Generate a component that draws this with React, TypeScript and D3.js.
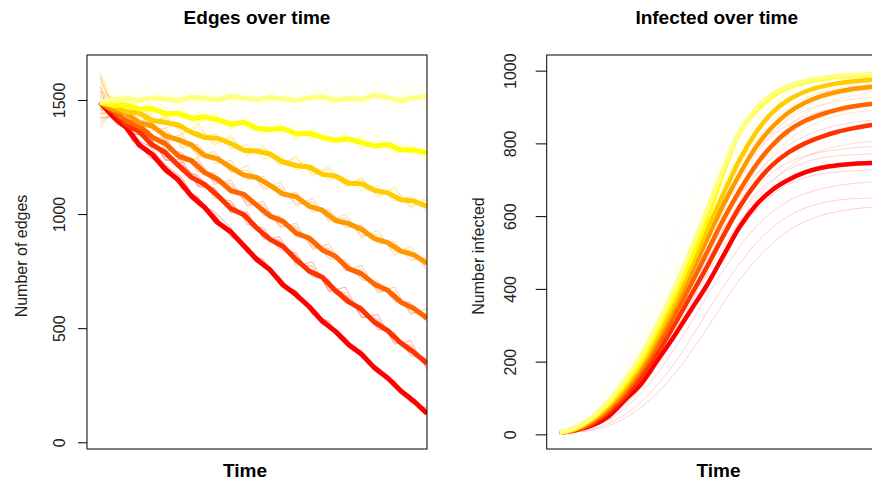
import React, { useEffect, useRef } from 'react';
import * as d3 from 'd3';

// heat.colors(7): one colour per scenario, red -> pale yellow
const heatColors = ['#FF0000', '#FF3300', '#FF6600', '#FF9900', '#FFCC00', '#FFFF00', '#FFFF80'];

const edgeTicks = [0, 500, 1000, 1500];
const infectedTicks = [0, 200, 400, 600, 800, 1000];

// ---- Edges over time: mean per scenario (26 time steps)
const edgesMean1 = [1490, 1427, 1380, 1303, 1261, 1195, 1149, 1078, 1029, 963, 922, 861, 800, 756, 689, 646, 594, 530, 486, 428, 386, 325, 282, 225, 180, 127];
const edgesMean2 = [1490, 1449, 1391, 1362, 1303, 1269, 1213, 1161, 1130, 1081, 1024, 997, 938, 889, 858, 800, 750, 723, 664, 616, 582, 525, 489, 435, 394, 346];
const edgesMean3 = [1490, 1455, 1408, 1386, 1337, 1308, 1255, 1234, 1182, 1153, 1103, 1086, 1038, 991, 968, 916, 895, 843, 815, 761, 738, 692, 666, 614, 586, 544];
const edgesMean4 = [1490, 1459, 1441, 1400, 1386, 1343, 1325, 1303, 1256, 1242, 1204, 1171, 1160, 1126, 1088, 1076, 1034, 1017, 972, 958, 933, 892, 875, 838, 821, 785];
const edgesMean5 = [1490, 1476, 1448, 1443, 1410, 1402, 1390, 1358, 1336, 1332, 1309, 1280, 1276, 1263, 1228, 1213, 1206, 1174, 1167, 1135, 1133, 1104, 1093, 1063, 1057, 1033];
const edgesMean6 = [1490, 1476, 1478, 1460, 1462, 1440, 1441, 1419, 1426, 1413, 1394, 1402, 1375, 1371, 1375, 1352, 1354, 1336, 1323, 1329, 1314, 1298, 1304, 1282, 1280, 1268];
const edgesMean7 = [1490, 1500, 1507, 1498, 1510, 1504, 1496, 1512, 1506, 1500, 1515, 1508, 1502, 1511, 1504, 1498, 1509, 1513, 1500, 1506, 1503, 1522, 1510, 1497, 1508, 1516];

// ---- Edges over time: single runs (21 time steps)
const edgesRuns1 = [
  [1540, 1400, 1350, 1250, 1210, 1110, 1070, 960, 930, 830, 790, 700, 655, 565, 520, 435, 390, 305, 265, 180, 140],
  [1420, 1430, 1320, 1285, 1180, 1140, 1040, 1000, 900, 860, 765, 725, 630, 590, 500, 460, 372, 330, 245, 205, 118],
  [1490, 1395, 1360, 1262, 1215, 1118, 1075, 978, 925, 852, 790, 702, 660, 580, 520, 448, 385, 318, 262, 196, 132],
  [1460, 1440, 1330, 1300, 1215, 1160, 1045, 1010, 940, 830, 800, 690, 665, 560, 530, 430, 400, 300, 270, 175, 150],
];
const edgesRuns2 = [
  [1560, 1410, 1395, 1300, 1285, 1185, 1170, 1070, 1058, 955, 940, 845, 830, 725, 712, 610, 598, 495, 480, 380, 365],
  [1440, 1450, 1355, 1340, 1240, 1225, 1125, 1112, 1010, 1000, 895, 885, 785, 770, 668, 655, 552, 540, 440, 425, 330],
  [1500, 1420, 1385, 1330, 1250, 1215, 1160, 1080, 1045, 985, 905, 872, 820, 735, 700, 645, 565, 530, 470, 395, 352],
  [1470, 1455, 1350, 1345, 1235, 1240, 1120, 1115, 1005, 1010, 890, 900, 775, 790, 660, 680, 545, 560, 430, 445, 318],
];
const edgesRuns3 = [
  [1600, 1425, 1420, 1330, 1325, 1235, 1230, 1140, 1135, 1045, 1040, 950, 945, 855, 850, 760, 755, 665, 660, 570, 565],
  [1400, 1460, 1375, 1365, 1280, 1270, 1185, 1178, 1090, 1085, 995, 990, 900, 895, 805, 800, 712, 705, 618, 612, 525],
  [1490, 1440, 1405, 1340, 1315, 1245, 1218, 1150, 1122, 1055, 1028, 962, 935, 866, 840, 772, 746, 680, 650, 585, 552],
  [1520, 1415, 1430, 1320, 1340, 1225, 1245, 1130, 1150, 1035, 1055, 940, 960, 845, 870, 750, 775, 655, 680, 560, 585],
];
const edgesRuns4 = [
  [1620, 1435, 1445, 1365, 1375, 1290, 1305, 1222, 1235, 1150, 1165, 1080, 1095, 1010, 1022, 940, 952, 870, 880, 798, 810],
  [1380, 1470, 1400, 1405, 1330, 1335, 1258, 1262, 1188, 1192, 1118, 1122, 1045, 1052, 975, 982, 905, 910, 835, 840, 765],
  [1490, 1450, 1430, 1378, 1360, 1305, 1290, 1236, 1220, 1165, 1150, 1095, 1080, 1025, 1008, 955, 938, 885, 868, 815, 790],
  [1460, 1480, 1395, 1420, 1320, 1350, 1250, 1275, 1180, 1212, 1105, 1140, 1035, 1070, 965, 1000, 895, 930, 820, 860, 750],
];
const edgesRuns5 = [
  [1580, 1445, 1468, 1400, 1425, 1355, 1380, 1310, 1335, 1262, 1290, 1218, 1245, 1172, 1200, 1125, 1155, 1080, 1110, 1035, 1060],
  [1420, 1488, 1422, 1442, 1378, 1398, 1332, 1352, 1285, 1306, 1240, 1260, 1194, 1215, 1148, 1168, 1102, 1124, 1056, 1078, 1008],
  [1490, 1465, 1450, 1418, 1405, 1372, 1360, 1326, 1312, 1280, 1266, 1235, 1220, 1188, 1176, 1143, 1130, 1098, 1085, 1052, 1040],
  [1540, 1500, 1475, 1390, 1430, 1350, 1395, 1300, 1345, 1255, 1300, 1210, 1255, 1165, 1210, 1120, 1160, 1070, 1120, 1025, 1075],
];
const edgesRuns6 = [
  [1560, 1458, 1492, 1435, 1470, 1412, 1448, 1390, 1428, 1368, 1410, 1346, 1390, 1325, 1368, 1302, 1345, 1280, 1325, 1258, 1300],
  [1440, 1500, 1446, 1480, 1424, 1458, 1400, 1435, 1378, 1412, 1356, 1390, 1334, 1368, 1312, 1345, 1290, 1322, 1268, 1300, 1240],
  [1490, 1478, 1470, 1455, 1450, 1432, 1426, 1410, 1404, 1388, 1382, 1366, 1360, 1344, 1338, 1322, 1315, 1300, 1293, 1278, 1270],
  [1470, 1510, 1435, 1490, 1410, 1470, 1390, 1450, 1370, 1425, 1350, 1400, 1325, 1380, 1300, 1360, 1280, 1340, 1255, 1315, 1225],
];
const edgesRuns7 = [
  [1620, 1490, 1545, 1500, 1550, 1495, 1555, 1505, 1560, 1500, 1558, 1498, 1562, 1505, 1555, 1500, 1560, 1502, 1570, 1505, 1565],
  [1380, 1525, 1470, 1520, 1465, 1525, 1470, 1518, 1462, 1528, 1468, 1522, 1458, 1520, 1465, 1525, 1460, 1530, 1455, 1522, 1450],
  [1500, 1505, 1498, 1512, 1500, 1508, 1495, 1515, 1502, 1510, 1498, 1516, 1504, 1512, 1500, 1514, 1498, 1510, 1505, 1518, 1508],
  [1560, 1540, 1480, 1560, 1490, 1545, 1478, 1570, 1485, 1560, 1475, 1575, 1490, 1560, 1470, 1580, 1480, 1565, 1478, 1585, 1490],
];

// ---- Infected over time: mean per scenario (21 time steps)
const infMean1 = [5, 12, 25, 50, 95, 140, 205, 270, 340, 410, 490, 570, 630, 672, 700, 720, 733, 740, 744, 746, 747];
const infMean2 = [5, 12, 30, 62, 105, 160, 225, 300, 380, 460, 545, 625, 690, 740, 775, 800, 818, 832, 842, 850, 855];
const infMean3 = [5, 14, 34, 68, 115, 175, 245, 325, 410, 500, 590, 670, 740, 795, 835, 862, 880, 893, 902, 908, 911];
const infMean4 = [5, 15, 38, 74, 124, 186, 262, 346, 438, 535, 630, 715, 790, 845, 885, 912, 930, 942, 950, 955, 958];
const infMean5 = [5, 16, 41, 80, 132, 196, 275, 362, 458, 560, 660, 755, 830, 885, 920, 942, 956, 965, 971, 975, 977];
const infMean6 = [5, 18, 45, 85, 140, 205, 290, 380, 480, 590, 720, 830, 890, 930, 955, 968, 977, 983, 986, 988, 989];
const infMean7 = [5, 20, 48, 92, 150, 220, 305, 400, 505, 615, 730, 830, 895, 935, 958, 972, 980, 985, 988, 990, 991];

// ---- Infected over time: single runs (21 time steps)
const infRuns1 = [
  [3, 6, 12, 24, 45, 75, 115, 165, 225, 290, 360, 425, 480, 525, 560, 585, 602, 613, 620, 624, 626],
  [4, 9, 20, 40, 72, 115, 170, 235, 305, 380, 450, 515, 570, 612, 642, 662, 675, 684, 690, 694, 696],
  [5, 11, 27, 58, 105, 165, 240, 325, 410, 490, 565, 630, 680, 720, 748, 765, 776, 783, 788, 791, 793],
  [3, 7, 15, 30, 55, 90, 138, 195, 262, 335, 405, 470, 525, 568, 600, 622, 636, 644, 648, 650, 651],
  [4, 10, 22, 45, 82, 130, 192, 262, 340, 418, 492, 560, 615, 658, 688, 706, 716, 722, 725, 727, 728],
  [4, 11, 26, 55, 100, 160, 235, 318, 402, 480, 550, 610, 660, 700, 728, 748, 760, 766, 769, 771, 772],
];
const infRuns2 = [
  [4, 10, 24, 50, 90, 140, 205, 280, 360, 440, 515, 585, 645, 695, 735, 762, 780, 792, 800, 805, 808],
  [5, 13, 33, 68, 118, 180, 255, 335, 420, 505, 585, 655, 715, 760, 795, 820, 838, 850, 858, 864, 868],
  [6, 15, 38, 78, 135, 205, 285, 375, 465, 555, 640, 715, 775, 820, 852, 874, 888, 897, 903, 907, 910],
];
const infRuns3 = [
  [4, 11, 27, 55, 98, 155, 225, 305, 390, 475, 560, 640, 710, 765, 808, 840, 862, 876, 885, 890, 893],
  [6, 16, 40, 80, 135, 205, 285, 375, 465, 555, 640, 715, 780, 830, 865, 890, 905, 915, 922, 926, 928],
  [5, 13, 31, 62, 108, 166, 236, 315, 400, 488, 575, 655, 725, 782, 824, 853, 872, 886, 896, 902, 906],
];
const infRuns4 = [
  [5, 13, 32, 64, 110, 170, 245, 330, 420, 515, 610, 695, 770, 828, 870, 900, 920, 933, 941, 946, 949],
  [6, 18, 44, 86, 142, 210, 290, 380, 475, 570, 660, 740, 808, 860, 898, 924, 940, 951, 958, 962, 965],
  [4, 12, 30, 60, 104, 160, 230, 310, 398, 490, 580, 665, 740, 800, 848, 882, 905, 921, 932, 939, 943],
];
const infRuns5 = [
  [6, 19, 47, 92, 150, 220, 305, 398, 495, 592, 685, 768, 838, 888, 922, 945, 959, 967, 972, 975, 977],
  [4, 13, 34, 68, 116, 178, 254, 340, 432, 528, 622, 710, 785, 845, 890, 922, 943, 956, 964, 969, 972],
  [5, 15, 38, 76, 128, 192, 270, 356, 450, 550, 650, 742, 818, 876, 914, 938, 953, 963, 969, 973, 976],
];
const infRuns6 = [
  [7, 24, 58, 110, 178, 260, 355, 458, 565, 668, 762, 840, 898, 935, 958, 972, 980, 985, 988, 990, 991],
  [4, 14, 36, 72, 122, 185, 262, 350, 445, 545, 645, 740, 822, 882, 922, 948, 963, 973, 979, 983, 985],
  [5, 17, 42, 82, 136, 202, 284, 374, 472, 575, 680, 780, 858, 910, 944, 963, 974, 981, 985, 987, 988],
];
const infRuns7 = [
  [8, 30, 75, 140, 225, 325, 435, 545, 650, 740, 812, 865, 905, 932, 952, 965, 974, 980, 984, 987, 989],
  [6, 22, 54, 102, 165, 242, 332, 432, 538, 640, 735, 815, 875, 918, 946, 964, 975, 982, 986, 989, 990],
  [5, 17, 43, 83, 138, 205, 285, 378, 478, 582, 685, 778, 852, 905, 940, 962, 975, 983, 988, 991, 992],
];

const edgesMeans = [edgesMean1, edgesMean2, edgesMean3, edgesMean4, edgesMean5, edgesMean6, edgesMean7];
const edgesRuns = [edgesRuns1, edgesRuns2, edgesRuns3, edgesRuns4, edgesRuns5, edgesRuns6, edgesRuns7];
const infMeans = [infMean1, infMean2, infMean3, infMean4, infMean5, infMean6, infMean7];
const infRuns = [infRuns1, infRuns2, infRuns3, infRuns4, infRuns5, infRuns6, infRuns7];

const FONT = 'Liberation Sans, Arial, sans-serif';
const TOP = 55;
const BOTTOM = 449;
const BOX_W = 340;

interface IPanel {
  id: string;
  left: number;
  title: string;
  ylab: string;
  ylabX: number;
  tickLen: number;
  labelOff: number;
  timeX: number;
  yDomain: [number, number];
  ticks: number[];
  means: number[][];
  runs: number[][][];
  runAlpha: number;
  meanWidth: number;
  curve: d3.CurveFactory;
}

function drawPanel(root: d3.Selection<SVGSVGElement, unknown, null, undefined>, p: IPanel) {
  const right = p.left + BOX_W;
  const x = d3.scaleLinear().domain([0, 1]).range([p.left + 13, right]);
  const y = d3.scaleLinear().domain(p.yDomain).range([BOTTOM, TOP]);

  const g = root.append('g');
  g.append('clipPath')
    .attr('id', p.id)
    .append('rect')
    .attr('x', p.left)
    .attr('y', TOP)
    .attr('width', BOX_W)
    .attr('height', BOTTOM - TOP);

  const plot = g.append('g').attr('clip-path', `url(#${p.id})`);
  const lineFor = (n: number) =>
    d3
      .line<number>()
      .x((_, i) => x(i / (n - 1)))
      .y((d) => y(d))
      .curve(p.curve);

  // thin single runs first
  p.runs.forEach((group, k) => {
    group.forEach((run) => {
      plot
        .append('path')
        .attr('d', lineFor(run.length)(run))
        .attr('fill', 'none')
        .attr('stroke', heatColors[k])
        .attr('stroke-opacity', p.runAlpha)
        .attr('stroke-width', 1);
    });
  });

  // thick means, red at the bottom
  p.means.forEach((m, k) => {
    plot
      .append('path')
      .attr('d', lineFor(m.length)(m))
      .attr('fill', 'none')
      .attr('stroke', heatColors[k])
      .attr('stroke-width', p.meanWidth)
      .attr('stroke-linejoin', 'round');
  });

  // box
  g.append('rect')
    .attr('x', p.left)
    .attr('y', TOP)
    .attr('width', BOX_W)
    .attr('height', BOTTOM - TOP)
    .attr('fill', 'none')
    .attr('stroke', '#000')
    .attr('stroke-width', 1);

  // y axis, R style: rotated labels
  const axis = g
    .append('g')
    .attr('transform', `translate(${p.left},0)`)
    .call(
      d3
        .axisLeft(y)
        .tickValues(p.ticks)
        .tickFormat(d3.format('d'))
        .tickSize(p.tickLen)
        .tickSizeOuter(0)
    );
  axis.select('.domain').remove();
  axis.selectAll('line').attr('stroke', '#000');
  axis
    .selectAll('text')
    .attr('x', null)
    .attr('dy', null)
    .attr('text-anchor', 'middle')
    .attr('transform', `translate(${-p.labelOff},0) rotate(-90)`)
    .attr('fill', '#222')
    .style('font-family', FONT)
    .style('font-size', '16px');

  // title, labels
  g.append('text')
    .attr('x', p.left + BOX_W / 2)
    .attr('y', 24)
    .attr('text-anchor', 'middle')
    .style('font-family', FONT)
    .style('font-weight', 'bold')
    .style('font-size', '19px')
    .text(p.title);

  g.append('text')
    .attr('transform', `translate(${p.ylabX},${(TOP + BOTTOM) / 2 + 4}) rotate(-90)`)
    .attr('text-anchor', 'middle')
    .attr('fill', '#222')
    .style('font-family', FONT)
    .style('font-size', '16px')
    .text(p.ylab);

  g.append('text')
    .attr('x', p.timeX)
    .attr('y', 477)
    .attr('text-anchor', 'middle')
    .style('font-family', FONT)
    .style('font-weight', 'bold')
    .style('font-size', '19px')
    .text('Time');
}

const App = () => {
  const ref = useRef<SVGSVGElement>(null);

  useEffect(() => {
    if (!ref.current) return;
    const svg = d3.select(ref.current);
    svg.selectAll('*').remove();

    drawPanel(svg, {
      id: 'clip-edges',
      left: 87,
      title: 'Edges over time',
      ylab: 'Number of edges',
      ylabX: 27,
      tickLen: 9,
      labelOff: 22,
      timeX: 245,
      yDomain: [-29.4, 1697],
      ticks: edgeTicks,
      means: edgesMeans,
      runs: edgesRuns,
      runAlpha: 0.4,
      meanWidth: 5,
      curve: d3.curveLinear,
    });

    drawPanel(svg, {
      id: 'clip-infected',
      left: 546.7,
      title: 'Infected over time',
      ylab: 'Number infected',
      ylabX: 484,
      tickLen: 11,
      labelOff: 31,
      timeX: 718.5,
      yDomain: [-40.2, 1043],
      ticks: infectedTicks,
      means: infMeans,
      runs: infRuns,
      runAlpha: 0.18,
      meanWidth: 4.5,
      curve: d3.curveMonotoneX,
    });
  }, []);

  return (
    <div style={{ position: 'absolute', left: 0, top: 0 }}>
      <svg ref={ref} width={872} height={481} style={{ display: 'block', background: '#fff' }} />
    </div>
  );
};

export default App;
